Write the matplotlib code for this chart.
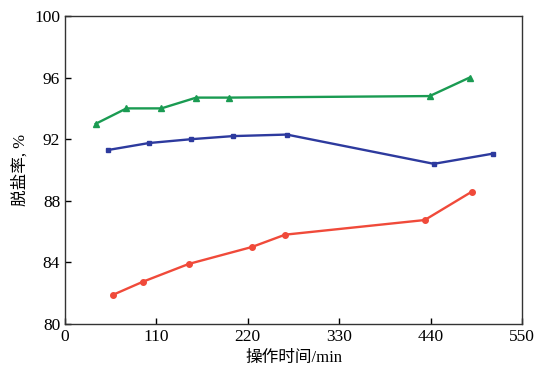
import matplotlib
matplotlib.use('Agg')
import matplotlib.pyplot as plt

plt.rcParams['font.family'] = ['Liberation Serif', 'Noto Sans CJK SC']

# data
green_x = [37, 74, 116, 158, 197, 439, 487]
green_y = [93.0, 94.0, 94.0, 94.7, 94.7, 94.8, 96.0]
blue_x = [52, 101, 152, 202, 267, 444, 515]
blue_y = [91.3, 91.75, 92.0, 92.2, 92.3, 90.4, 91.06]
red_x = [58, 94, 149, 225, 265, 433, 490]
red_y = [81.9, 82.75, 83.9, 85.0, 85.8, 86.75, 88.6]

xticks = [0, 110, 220, 330, 440, 550]
yticks = [80, 84, 88, 92, 96, 100]

fig = plt.figure(figsize=(5.35, 3.77), dpi=100)
ax = fig.add_axes([0.1215, 0.1406, 0.854, 0.817])

ax.plot(green_x, green_y, '-^', color='#1a9b52', lw=1.7, ms=4)
ax.plot(blue_x, blue_y, '-s', color='#2d3a9e', lw=1.7, ms=3.5)
ax.plot(red_x, red_y, '-o', color='#f04a3a', lw=1.7, ms=4)

ax.set_xlim(0, 550)
ax.set_ylim(80, 100)
ax.set_xticks(xticks)
ax.set_yticks(yticks)
ax.tick_params(direction='in', labelsize=12.5, length=4, width=1, top=False, right=False)
for s in ax.spines.values():
    s.set_linewidth(1.0)
    s.set_color('#333333')

ax.set_xlabel('操作时间/min', fontsize=12)
ax.set_ylabel('脱盐率, %', fontsize=12)

fig.savefig('out.png', dpi=100)
